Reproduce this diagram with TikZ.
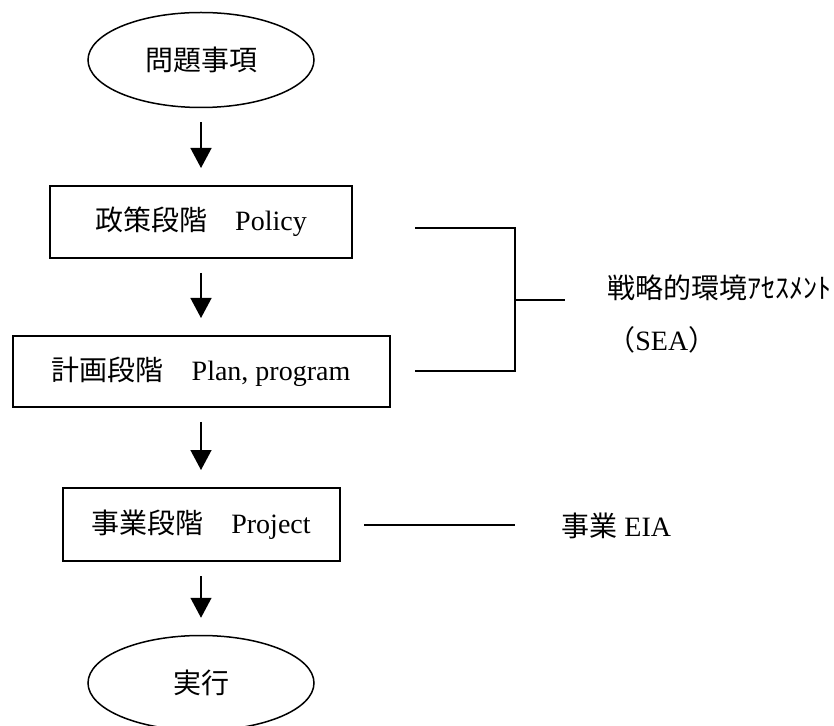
\documentclass[tikz,border=0pt]{standalone}
\usepackage{fontspec}
\setmainfont{Liberation Serif}
\newfontfamily\jpfont{Noto Sans CJK JP}
\usetikzlibrary{arrows.meta, shapes.geometric, positioning}

\begin{document}
\begin{tikzpicture}[
    x=0.5pt, y=-0.5pt,
    every node/.style={font=\fontsize{14}{17}\selectfont},
    endpoint/.style={ellipse, draw=black, line width=0.75pt,
                     minimum width=113pt, minimum height=47.5pt, inner sep=0pt},
    phase/.style={rectangle, draw=black, line width=1pt,
                  minimum height=36pt, inner sep=0pt},
    arrow/.style={-{Triangle[length=10pt, width=10.5pt]}, line width=0.7pt,
                  shorten <=7pt, shorten >=8.5pt},
    link/.style={line width=0.9pt},
    note/.style={anchor=west, inner sep=0pt}
]
\useasboundingbox (0,0) rectangle (834,726);
%% Stages from issue to execution
\node[endpoint] (issue) at (201,60) {\jpfont 問題事項};
\node[phase, minimum width=151pt] (policy) at (201,222) {{\jpfont 政策段階　}Policy};
\node[phase, minimum width=188.5pt, minimum height=35.5pt] (plan) at (201,371.5)
    {{\jpfont 計画段階　}Plan, program};
\node[phase, minimum width=138.5pt, minimum height=36.5pt] (project) at (201,524.5)
    {{\jpfont 事業段階　}Project};
\node[endpoint] (execute) at (201,683) {\jpfont 実行};
%% Downward arrows
\draw[arrow] (issue) -- (policy);
\draw[arrow] (policy) -- (plan);
\draw[arrow] (plan) -- (project);
\draw[arrow] (project) -- (execute);
%% SEA bracket
\coordinate (seatop)  at (415,228);
\coordinate (seabot)  at (415,371);
\coordinate (seajoin) at (515,300);
\coordinate (seaend)  at (565,300);
\draw[link] (seatop) -| (seajoin) |- (seabot);
\draw[link] (seajoin) -- (seaend);
\node[note] (seatext) at (607,288) {\jpfont 戦略的環境ｱｾｽﾒﾝﾄ};
\node[note] (seaabbr) at (607,340) {{\jpfont （}SEA{\jpfont ）}};
%% Project EIA
\coordinate (eiastart) at (364,525);
\coordinate (eiaend)   at (515,525);
\draw[link] (eiastart) -- (eiaend);
\node[note] (eiatext) at (561,526) {{\jpfont 事業} EIA};
\end{tikzpicture}
\end{document}
